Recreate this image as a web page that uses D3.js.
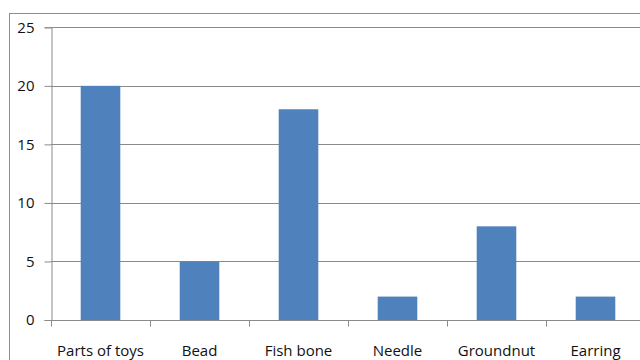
<!DOCTYPE html>
<html>
<head>
<meta charset="utf-8">
<script src="https://cdn.jsdelivr.net/npm/d3@7"></script>
<style>
  html, body { margin: 0; padding: 0; background: #fff; }
  svg { display: block; }
  text { font-family: "Open Sans", "Noto Sans", sans-serif; fill: #111; }
</style>
</head>
<body>
<script>
const categories = ["Parts of toys", "Bead", "Fish bone", "Needle", "Groundnut", "Earring"];
const values = [20, 5, 18, 2, 8, 2];
const yTicks = [0, 5, 10, 15, 20, 25];

const W = 640, H = 360;
const FONT_SIZE = 15;
const svg = d3.select("body").append("svg").attr("width", W).attr("height", H);

// chart frame (extends past the right and bottom edges)
svg.append("rect")
  .attr("x", 9.5).attr("y", 13.5)
  .attr("width", 700).attr("height", 400)
  .attr("fill", "#fff").attr("stroke", "#8c8c8c").attr("stroke-width", 1);

const plotLeft = 51, plotTop = 27.3, plotBottom = 320;
const step = 99;
const x = d3.scaleBand()
  .domain(categories)
  .range([plotLeft, plotLeft + step * categories.length])
  .paddingInner(0.6).paddingOuter(0.3);
const y = d3.scaleLinear().domain([0, 25]).range([plotBottom, plotTop]);

// horizontal gridlines
svg.append("g").selectAll("line").data(yTicks.filter(d => d > 0)).join("line")
  .attr("x1", plotLeft).attr("x2", W + 10)
  .attr("y1", d => Math.round(y(d)) + 0.5).attr("y2", d => Math.round(y(d)) + 0.5)
  .attr("stroke", "#8a8a8a").attr("stroke-width", 1);

// bars
svg.append("g").selectAll("rect").data(values).join("rect")
  .attr("x", (d, i) => x(categories[i]))
  .attr("width", x.bandwidth())
  .attr("y", d => y(d))
  .attr("height", d => y(0) - y(d))
  .attr("fill", "#4f81bd");

// y axis
const yAxis = svg.append("g")
  .attr("transform", `translate(${plotLeft + 0.5},0)`)
  .call(d3.axisLeft(y).tickValues(yTicks).tickSize(7).tickPadding(10).tickFormat(d3.format("d")));
yAxis.select(".domain").attr("stroke", "#8a8a8a");
yAxis.selectAll(".tick line").attr("stroke", "#8a8a8a");
yAxis.selectAll(".tick text").attr("font-size", FONT_SIZE).attr("fill", "#111")
  .style("font-family", "'Open Sans', 'Noto Sans', sans-serif");

// x axis: ticks sit on category boundaries
const xAxisG = svg.append("g").attr("transform", `translate(0,${Math.round(plotBottom) + 0.5})`);
xAxisG.append("line")
  .attr("x1", plotLeft).attr("x2", W + 10)
  .attr("stroke", "#8a8a8a");
const bounds = d3.range(categories.length + 1).map(i => plotLeft + i * step);
xAxisG.selectAll("line.tk").data(bounds).join("line").attr("class", "tk")
  .attr("x1", d => Math.round(d) + 0.5).attr("x2", d => Math.round(d) + 0.5)
  .attr("y1", 0).attr("y2", 6)
  .attr("stroke", "#8a8a8a");
xAxisG.selectAll("text").data(categories).join("text")
  .attr("x", d => x(d) + x.bandwidth() / 2)
  .attr("y", 35)
  .attr("text-anchor", "middle")
  .attr("font-size", FONT_SIZE)
  .text(d => d);
</script>
</body>
</html>
